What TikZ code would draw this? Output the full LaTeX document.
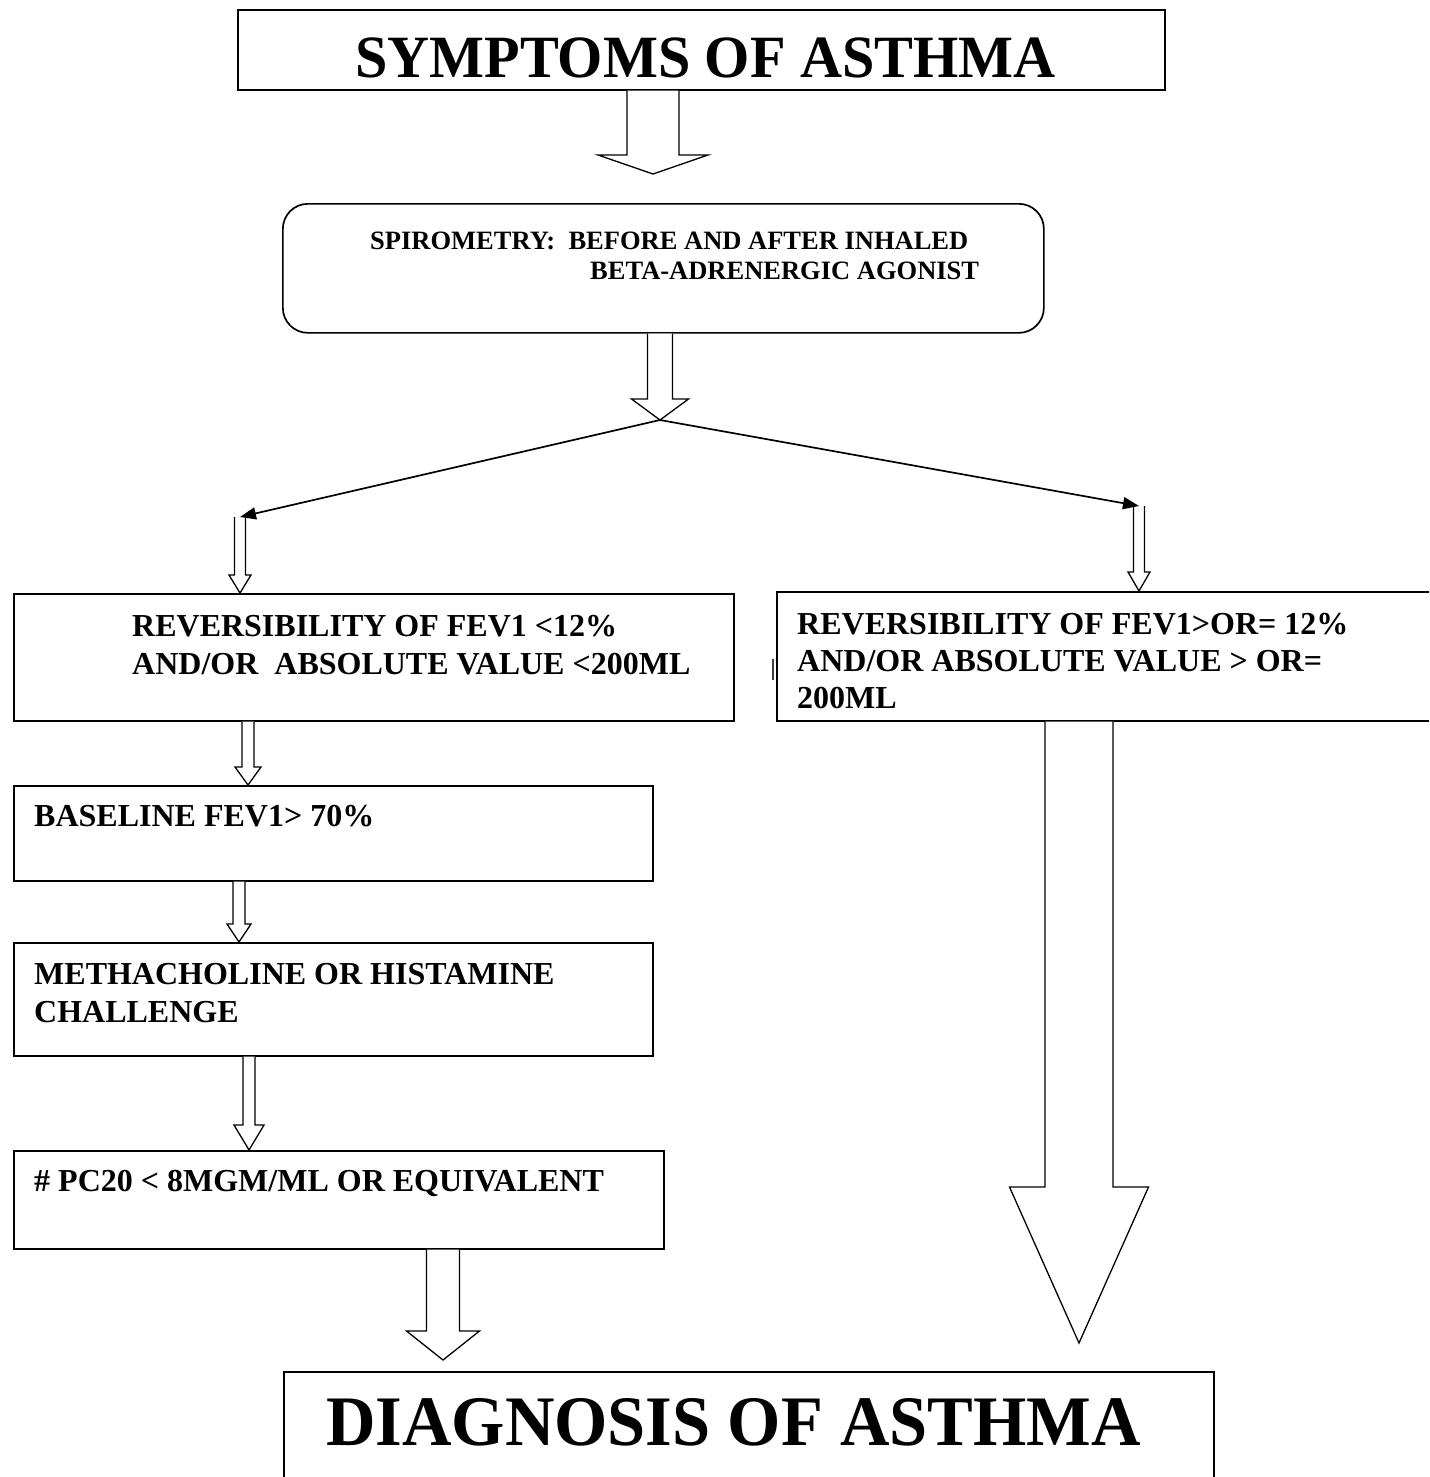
\documentclass[tikz,border=0pt]{standalone}
\usepackage{fontspec}
\setmainfont{Liberation Serif}
\usepackage{graphicx}
\usetikzlibrary{arrows.meta,calc}
\tikzset{
  boxshape/.style={draw, line width=1.7pt, rectangle, inner sep=0pt, anchor=north west},
  txt/.style={anchor=base west, inner sep=0pt, font=\fontsize{32}{36}\selectfont\bfseries},
  smalltxt/.style={anchor=base west, inner sep=0pt, font=\fontsize{26.5}{30}\selectfont\bfseries},
  blockar/.style={draw, line width=1.3pt, fill=white, line join=miter},
  thinline/.style={draw, line width=1.7pt, -{Triangle[length=16pt,width=12pt]}}
}
% #1 source (top y), #2 tip coordinate, #3 shaft half width, #4 head half width, #5 head length
\newcommand\blockarr[5]{%
  \draw[blockar] let \p1=(#1), \p2=(#2) in
    (\x2-#3pt,\y1) -- (\x2-#3pt,\y2+#5pt) -- (\x2-#4pt,\y2+#5pt) -- (\p2)
    -- (\x2+#4pt,\y2+#5pt) -- (\x2+#3pt,\y2+#5pt) -- (\x2+#3pt,\y1);}
\begin{document}
\begin{tikzpicture}[x=1pt,y=-1pt]
\useasboundingbox (0,0) rectangle (1429,1477);
\fill[white] (0,0) rectangle (1429,1477);
\clip (0,0) rectangle (1429,1477);

% boxes
\node[boxshape, minimum width=927pt, minimum height=80pt] (sym) at (237,9) {};
\node[boxshape, rounded corners=25pt, minimum width=761pt, minimum height=129pt] (spiro) at (282,203) {};
\node[boxshape, minimum width=720pt, minimum height=127pt] (lowrev) at (13,593) {};
\node[boxshape, minimum width=680pt, minimum height=129pt] (highrev) at (776,591) {};
\node[boxshape, minimum width=639pt, minimum height=95pt] (base) at (13,785) {};
\node[boxshape, minimum width=639pt, minimum height=113pt] (meth) at (13,942) {};
\node[boxshape, minimum width=650pt, minimum height=98pt] (pc) at (13,1150) {};
\node[boxshape, minimum width=930pt, minimum height=130pt] (diag) at (283,1371) {};

% texts
\node[anchor=base west, inner sep=0pt] (symt) at (355,78)
  {\fontsize{60}{64}\selectfont\bfseries\scalebox{0.97}[1]{SYMPTOMS OF ASTHMA}};
\node[smalltxt] (sp1) at (370,249) {SPIROMETRY:\ \ BEFORE AND AFTER INHALED};
\node[smalltxt] (sp2) at (590,279) {BETA-ADRENERGIC AGONIST};
\node[txt] (lr1) at (132,636) {REVERSIBILITY OF FEV1 <12\%};
\node[txt] (lr2) at (132,674) {AND/OR\ \ ABSOLUTE VALUE <200ML};
\node[txt] (hr1) at (797,634) {REVERSIBILITY OF FEV1>OR= 12\%};
\node[txt] (hr2) at (797,671) {AND/OR ABSOLUTE VALUE > OR=};
\node[txt] (hr3) at (797,708) {200ML};
\node[txt] (bt) at (34,826) {BASELINE FEV1> 70\%};
\node[txt] (mt1) at (34,984) {METHACHOLINE OR HISTAMINE};
\node[txt] (mt2) at (34,1022) {CHALLENGE};
\node[txt] (pt) at (34,1191) {\# PC20 < 8MGM/ML OR EQUIVALENT};
\node[anchor=base west, inner sep=0pt] (diagt) at (326,1445)
  {\fontsize{71}{75}\selectfont\bfseries\scalebox{0.965}[1]{DIAGNOSIS OF ASTHMA}};

% coordinates
\coordinate (tipA) at (653,174);
\coordinate (fork) at (660,420);
\coordinate (lt) at (240,517);
\coordinate (rt) at (1139,506);
\coordinate (tipL) at (240,593);
\coordinate (tipR) at (1139,591);
\coordinate (tipB) at (248,785);
\coordinate (tipC) at (239,942);
\coordinate (tipD) at (249,1150);
\coordinate (tipE) at (443,1360);
\coordinate (tipF) at (1079,1343);

% block arrows
\blockarr{sym.south}{tipA}{26}{55}{19}
\blockarr{spiro.south}{fork}{12.5}{28.5}{21}
\blockarr{lt}{tipL}{5.5}{11}{18}
\blockarr{rt}{tipR}{5.5}{11}{19}
\blockarr{lowrev.south}{tipB}{6}{13}{18}
\blockarr{base.south}{tipC}{6}{12}{18}
\blockarr{meth.south}{tipD}{6}{15}{25}
\blockarr{pc.south}{tipE}{16.5}{36.5}{29}
\blockarr{highrev.south}{tipF}{34}{69.5}{156}

% thin connectors
\draw[thinline] (fork) -- (lt);
\draw[thinline] (fork) -- (rt);

% small mark
\draw[line width=2.5pt, black!75] (773,659) -- (773,680);
\end{tikzpicture}
\end{document}
